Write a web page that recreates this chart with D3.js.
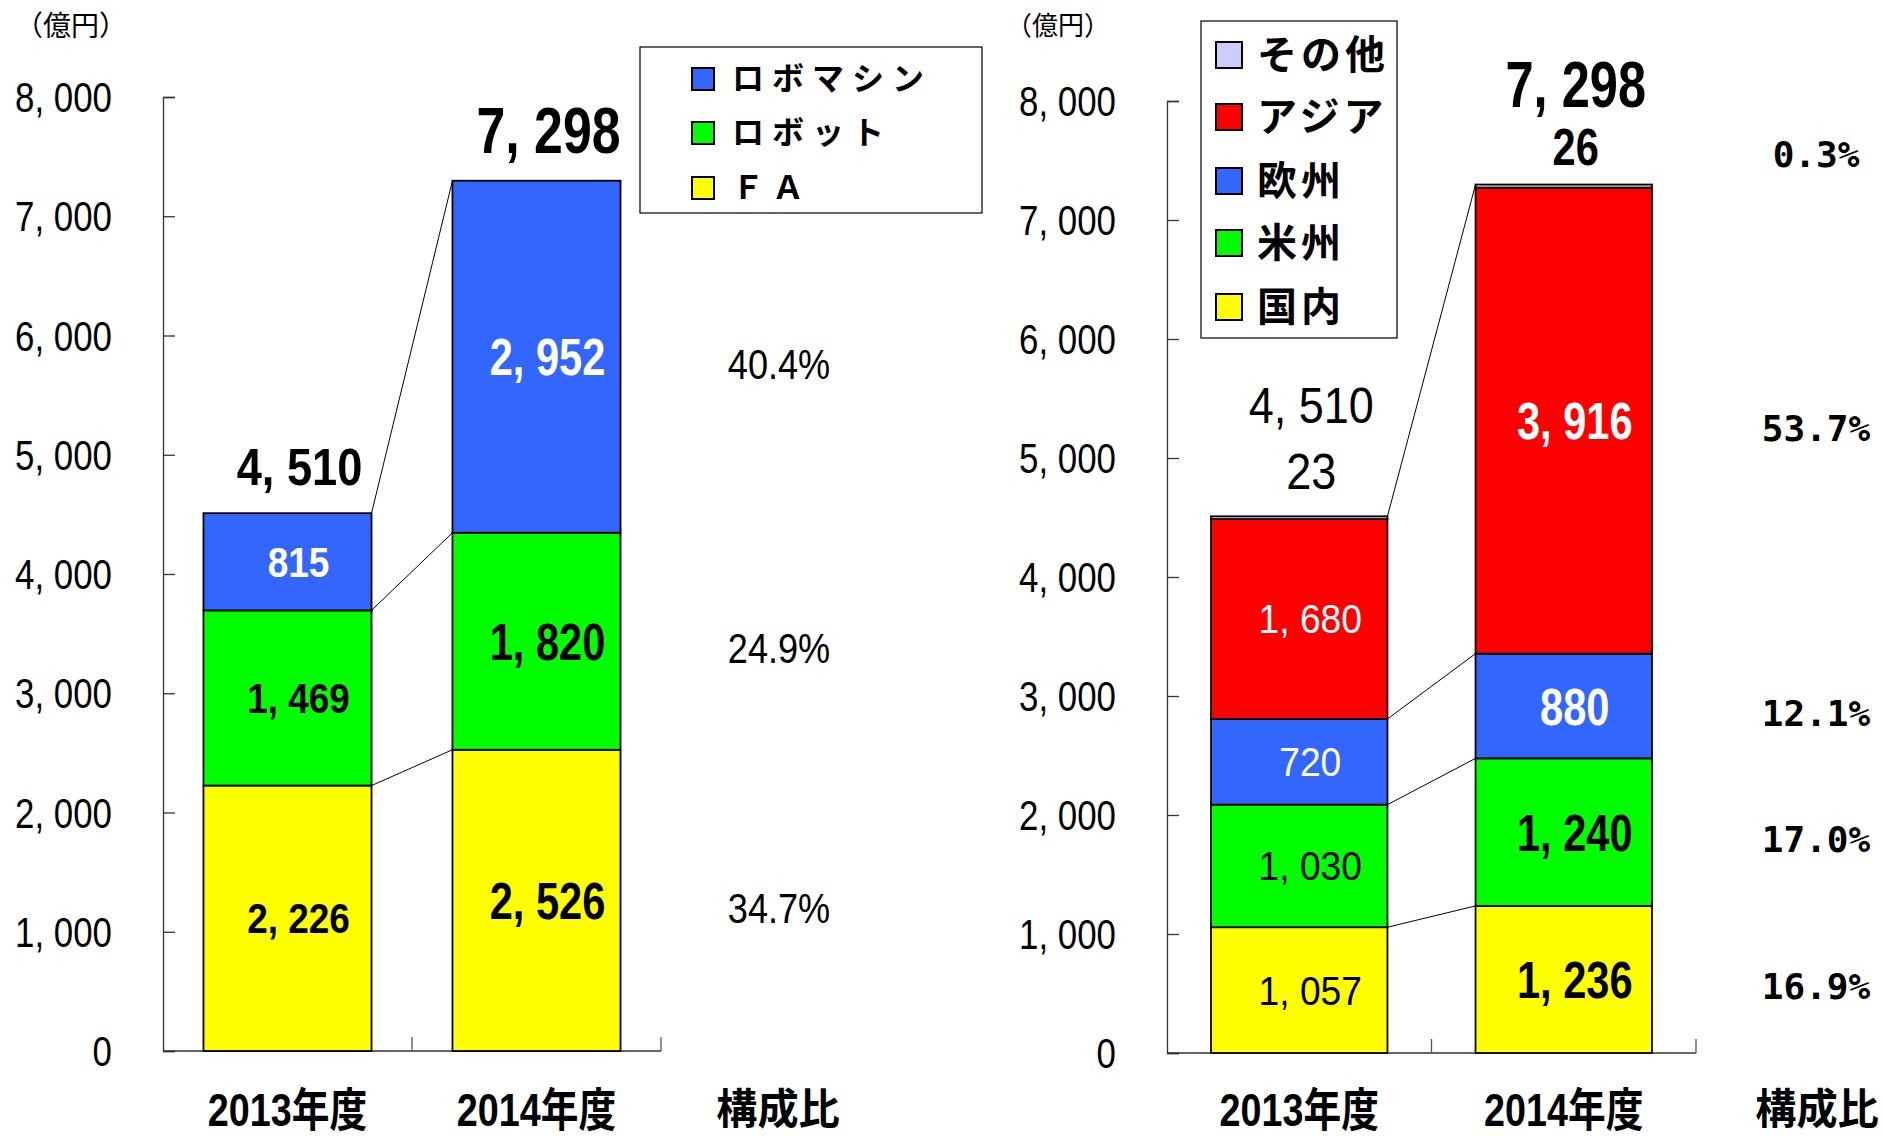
<!DOCTYPE html>
<html>
<head>
<meta charset="utf-8">
<script src="https://cdn.jsdelivr.net/npm/d3@7"></script>
<style>
  html, body { margin: 0; padding: 0; background: #fff; }
  svg { display: block; }
</style>
</head>
<body>
<div id="chart"></div>
<script>
// ---- data ----
const years = ['2013年度', '2014年度'];
const yTicks = [0, 1000, 2000, 3000, 4000, 5000, 6000, 7000, 8000];

// product chart (bottom -> top)
const productKeys = ['FA', 'ロボット', 'ロボマシン'];
const productLegend = ['ＦＡ', 'ロボット', 'ロボマシン'];
const productFA = [2226, 2526];
const productRobot = [1469, 1820];
const productRoboMachine = [815, 2952];
const productTotals = [4510, 7298];
const productShares = ['34.7%', '24.9%', '40.4%'];

// region chart (bottom -> top)
const regionKeys = ['国内', '米州', '欧州', 'アジア', 'その他'];
const regionDomestic = [1057, 1236];
const regionAmericas = [1030, 1240];
const regionEurope = [720, 880];
const regionAsia = [1680, 3916];
const regionOther = [23, 26];
const regionTotals = [4510, 7298];
const regionShares = ['16.9%', '17.0%', '12.1%', '53.7%', '0.3%'];

const colors = {
  'FA': '#ffff00', 'ロボット': '#00ff00', 'ロボマシン': '#3366ff',
  '国内': '#ffff00', '米州': '#00ff00', '欧州': '#3366ff', 'アジア': '#ff0000', 'その他': '#ccccff'
};
const whiteText = new Set(['ロボマシン', '欧州', 'アジア']);

const SANS = "'Liberation Sans', Arial, 'Noto Sans CJK JP', sans-serif";
const JP = "'Noto Sans CJK JP', sans-serif";
const MONO = "'DejaVu Sans Mono', 'Liberation Mono', monospace";
const fmt = v => d3.format(',')(v).replace(',', ', ');

const width = 1883, height = 1137;
const svg = d3.select('#chart').append('svg')
  .attr('width', width)
  .attr('height', height)
  .style('background', '#fff');

// condensed text: centre line at cy, squeezed horizontally by sx
function label(parent, x, cy, str, o) {
  const size = o.size || 40;
  return parent.append('text')
    .attr('transform', `translate(${x},${cy + (o.shift ?? 0.36) * size}) scale(${o.sx || 1},1)`)
    .attr('text-anchor', o.anchor || 'middle')
    .attr('fill', o.fill || '#000')
    .style('font-family', o.family || SANS)
    .style('font-size', size + 'px')
    .style('font-weight', o.weight || 'normal')
    .style('letter-spacing', (o.ls || 0) + 'px')
    .text(str);
}

const productRows = years.map((yr, i) => ({
  year: yr, 'FA': productFA[i], 'ロボット': productRobot[i], 'ロボマシン': productRoboMachine[i]
}));
const regionRows = years.map((yr, i) => ({
  year: yr, '国内': regionDomestic[i], '米州': regionAmericas[i], '欧州': regionEurope[i],
  'アジア': regionAsia[i], 'その他': regionOther[i]
}));

function drawPanel(p) {
  const g = svg.append('g');
  const x = d3.scaleBand().domain(years).range(p.xRange)
    .paddingInner(p.pad).paddingOuter(p.pad / 2);
  const y = d3.scaleLinear().domain([0, 8000]).range(p.yRange);
  const series = d3.stack().keys(p.keys)(p.rows);
  const bw = x.bandwidth();

  // unit label
  g.append('text')
    .attr('x', p.unitX).attr('y', 26 + p.unitSize * 0.36)
    .style('font-family', JP).style('font-size', p.unitSize + 'px')
    .text('（億円）');

  // y axis (ticks point inward)
  const ya = g.append('g').attr('transform', `translate(${p.xRange[0]},0)`)
    .call(d3.axisLeft(y).tickValues(yTicks).tickSize(-12).tickFormat(''));
  ya.selectAll('path, line').attr('stroke', '#333').attr('stroke-width', 1.3);
  yTicks.forEach(t => label(g, p.tickLabelX, y(t), fmt(t), { size: 42, sx: 0.83, anchor: 'end' }));

  // x axis baseline with boundary ticks
  const y0 = y(0);
  g.append('line')
    .attr('x1', p.xRange[0]).attr('x2', p.xRange[1])
    .attr('y1', y0).attr('y2', y0)
    .attr('stroke', '#333').attr('stroke-width', 1.3);
  g.selectAll('.xtick').data(years).enter().append('line')
    .attr('class', 'xtick')
    .attr('x1', (d, i) => p.xRange[0] + x.step() * (i + 1))
    .attr('x2', (d, i) => p.xRange[0] + x.step() * (i + 1))
    .attr('y1', y0).attr('y2', y0 - 14)
    .attr('stroke', '#555').attr('stroke-width', 1.3);

  // category labels
  years.forEach(d => label(g, x(d) + bw / 2, 1109, d, { size: 46, sx: 0.82, weight: 'bold' }));
  label(g, p.shareHeadX, 1109, '構成比', { size: 42, sx: 0.98, weight: 'bold', family: JP });

  // connector lines between the two bars
  const x1r = x(years[0]) + bw, x2l = x(years[1]);
  series.forEach((s, k) => {
    const next = series[k + 1];
    if (next && next[0][1] - next[0][0] < 50) return; // tiny series on top shares the line
    g.append('line')
      .attr('x1', x1r).attr('y1', y(s[0][1]))
      .attr('x2', x2l).attr('y2', y(s[1][1]))
      .attr('stroke', '#000').attr('stroke-width', 1);
  });

  // bars
  const layer = g.selectAll('.layer').data(series).enter().append('g')
    .attr('fill', d => colors[d.key]);
  layer.selectAll('rect').data(d => d).enter().append('rect')
    .attr('x', d => x(d.data.year))
    .attr('y', d => y(d[1]))
    .attr('width', bw)
    .attr('height', d => y(d[0]) - y(d[1]))
    .attr('stroke', '#000').attr('stroke-width', 1.8);

  // value labels inside segments
  series.forEach(s => {
    if (p.outsideKey === s.key) return;
    s.forEach((d, i) => {
      const st = p.valueStyle[i];
      label(g, x(d.data.year) + bw / 2 + 11, y((d[0] + d[1]) / 2), fmt(d.data[s.key]),
        { size: st.size, sx: st.sx, weight: st.weight, fill: whiteText.has(s.key) ? '#fff' : '#000' });
    });
  });

  // labels above bars: small top series value, then total
  p.totals.forEach((t, i) => {
    const cx = x(years[i]) + bw / 2 + 12;
    const st = p.topStyle[i];
    let yy = y(t);
    if (p.outsideKey) {
      yy -= st.smallGap;
      label(g, cx, yy, fmt(p.rows[i][p.outsideKey]), { size: st.size, sx: st.sx, weight: st.weight });
    }
    label(g, cx, yy - st.gap, fmt(t), { size: st.totalSize, sx: st.totalSx, weight: st.weight });
  });

  // share labels aligned with the latest year segments
  series.forEach((s, k) => {
    const d = s[1];
    let yy = y((d[0] + d[1]) / 2) + 7;
    if (p.outsideKey === s.key) yy = y(p.totals[1]) - p.topStyle[1].smallGap + 8;
    label(g, p.shareX, yy, p.shares[k], p.shareStyle);
  });

  // legend
  const lg = g.append('g');
  lg.append('rect')
    .attr('x', p.legend.x).attr('y', p.legend.y)
    .attr('width', p.legend.w).attr('height', p.legend.h)
    .attr('fill', '#fff').attr('stroke', '#000').attr('stroke-width', 1.2);
  const items = p.keys.map((k, i) => ({ key: k, label: p.legendLabels[i] })).reverse();
  items.forEach((it, i) => {
    const cy = p.legend.rows[i];
    lg.append('rect')
      .attr('x', p.legend.sx).attr('y', cy - p.legend.ss / 2)
      .attr('width', p.legend.ss).attr('height', p.legend.ss)
      .attr('fill', colors[it.key]).attr('stroke', '#000').attr('stroke-width', 2);
    label(lg, p.legend.tx, cy, it.label,
      { size: p.legend.fs, weight: 'bold', family: JP, anchor: 'start', ls: p.legend.ls, shift: 0.34 });
  });
}

drawPanel({
  rows: productRows, keys: productKeys, legendLabels: productLegend,
  xRange: [163, 661], yRange: [1051, 97], pad: 0.325,
  unitX: 15, unitSize: 28, tickLabelX: 112,
  totals: productTotals, shares: productShares,
  shareX: 779, shareHeadX: 778,
  shareStyle: { size: 42, sx: 0.86 },
  valueStyle: [{ size: 42, sx: 0.88, weight: 'bold' }, { size: 52, sx: 0.8, weight: 'bold' }],
  topStyle: [
    { gap: 47, totalSize: 52, totalSx: 0.87, weight: 'bold' },
    { gap: 51, totalSize: 64, totalSx: 0.81, weight: 'bold' }
  ],
  legend: { x: 640, y: 47, w: 342, h: 166, rows: [79, 133, 188], sx: 692, ss: 22, tx: 732, fs: 32, ls: 8 }
});

drawPanel({
  rows: regionRows, keys: regionKeys, legendLabels: regionKeys, outsideKey: 'その他',
  xRange: [1167, 1696], yRange: [1053, 101], pad: 0.333,
  unitX: 1006, unitSize: 26, tickLabelX: 1116,
  totals: regionTotals, shares: regionShares,
  shareX: 1816, shareHeadX: 1817,
  shareStyle: { size: 36, weight: 'bold', family: MONO },
  valueStyle: [{ size: 40, sx: 0.93, weight: 'normal' }, { size: 52, sx: 0.8, weight: 'bold' }],
  topStyle: [
    { smallGap: 45, gap: 66, size: 50, sx: 0.9, totalSize: 50, totalSx: 0.9, weight: 'normal' },
    { smallGap: 38, gap: 63, size: 52, sx: 0.8, totalSize: 64, totalSx: 0.79, weight: 'bold' }
  ],
  legend: { x: 1201, y: 21, w: 196, h: 317, rows: [55, 117, 181, 243, 307], sx: 1216, ss: 26, tx: 1257, fs: 40, ls: 4 }
});
</script>
</body>
</html>
